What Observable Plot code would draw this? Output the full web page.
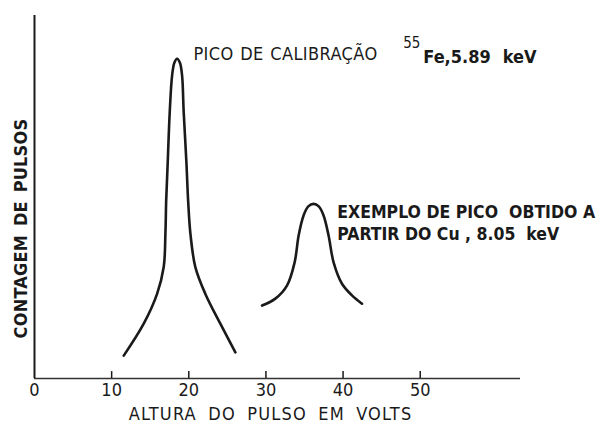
<!DOCTYPE html>
<html>
<head>
<meta charset="utf-8">
<script src="https://cdn.jsdelivr.net/npm/d3@7"></script>
<script src="https://cdn.jsdelivr.net/npm/@observablehq/plot@0.6"></script>
<style>
  html, body { margin: 0; padding: 0; background: #fff; }
  #chart svg { display: block; }
</style>
</head>
<body>
<div id="chart"></div>
<script>
// Peak 1: calibration peak (55Fe, 5.89 keV) — pulse height (V) vs relative counts
const peak1X = [11.57, 14.16, 15.89, 16.75, 16.97, 17.07, 17.27, 17.53, 17.84, 18.13, 18.48, 18.85, 19.13, 19.34, 19.69, 19.92, 20.21, 20.85, 22.15, 24.09, 26.04];
const peak1Y = [6.3, 15.1, 23.3, 30.7, 39.9, 49.0, 59.6, 73.4, 83.5, 87.0, 88.1, 87.0, 83.5, 73.4, 59.6, 48.8, 39.9, 30.7, 23.3, 15.1, 7.2];
// Peak 2: example peak obtained from Cu, 8.05 keV
const peak2X = [29.50, 31.22, 32.73, 33.72, 34.24, 34.88, 35.49, 36.18, 36.85, 37.47, 38.12, 38.77, 39.86, 41.15, 42.45];
const peak2Y = [20.1, 22.0, 25.6, 32.0, 39.4, 44.9, 47.4, 48.1, 47.4, 44.9, 39.4, 32.0, 26.1, 22.9, 20.6];
// Axis ticks and texts
const xTicks = [0, 10, 20, 30, 40, 50];
const xLabel = "ALTURA DO PULSO EM VOLTS";
const yLabel = "CONTAGEM DE PULSOS";
const note1 = "PICO DE CALIBRAÇÃO";
const note1Sup = "55";
const note1Rest = ["Fe,5.89", "keV"];
const note2 = ["EXEMPLO DE PICO  OBTIDO A", "PARTIR DO Cu , 8.05  keV"];

const peak1 = peak1X.map((x, i) => ({x, y: peak1Y[i]}));
const peak2 = peak2X.map((x, i) => ({x, y: peak2Y[i]}));

const ink = "#1a1a1a";
const font = "'DejaVu Sans Condensed', 'DejaVu Sans', sans-serif";

const chart = Plot.plot({
  width: 606,
  height: 433,
  marginLeft: 34,
  marginRight: 86,
  marginTop: 15,
  marginBottom: 55,
  style: {fontFamily: font, color: ink, background: "#fff"},
  x: {domain: [0, 63]},
  y: {domain: [0, 100]},
  marks: [
    // axis lines
    Plot.ruleY([0], {x1: 0, x2: 63, stroke: "#333", strokeWidth: 1.6}),
    Plot.ruleX([0], {y1: 0, y2: 100, stroke: ink, strokeWidth: 2}),
    // small upward tick marks
    Plot.ruleX(xTicks.filter(d => d > 0), {y1: 0, y2: 1.9, stroke: ink, strokeWidth: 1.5}),
    Plot.axisX({ticks: xTicks, tickSize: 0, tickPadding: 5, fontSize: 18, label: null, tickFormat: d => String(d)}),
    Plot.axisY({ticks: [], label: null}),
    // curves
    Plot.line(peak1, {x: "x", y: "y", curve: "catmull-rom", stroke: ink, strokeWidth: 2.6}),
    Plot.line(peak2, {x: "x", y: "y", curve: "catmull-rom", stroke: ink, strokeWidth: 2.6}),
    // axis titles
    Plot.text([xLabel], {x: 30.6, frameAnchor: "bottom", dy: 41, fontSize: 18, fill: ink, text: d => d}),
    Plot.text([yLabel], {y: 41.3, frameAnchor: "left", textAnchor: "middle", dx: -13, rotate: -90, fontSize: 18, fontWeight: "bold", fill: ink, text: d => d}),
    // annotations
    Plot.text([note1], {x: 20.6, y: 89.2, textAnchor: "start", fontSize: 18, fill: ink, text: d => d}),
    Plot.text([note1Sup], {x: 47.8, y: 92.3, textAnchor: "start", fontSize: 15, fill: ink, text: d => d}),
    Plot.text(note1Rest, {x: (d, i) => [50.4, 60.7][i], y: 88.5, textAnchor: "start", fontSize: 18, fill: ink, fontWeight: "bold", text: d => d}),
    Plot.text(note2, {x: 39.25, y: (d, i) => 45.7 - i * 6.0, textAnchor: "start", fontSize: 17.5, fill: ink, fontWeight: "bold", text: d => d})
  ]
});

// letter spacing to mimic the stencil lettering of the original
d3.select(chart).selectAll("text").each(function () {
  const t = this.textContent;
  const s = d3.select(this);
  if (t === xLabel) s.attr("letter-spacing", 1.2).attr("word-spacing", 5);
  else if (t === note1) s.attr("letter-spacing", 0.4).attr("word-spacing", 1);
  else if (t === yLabel) s.attr("letter-spacing", 0.2).attr("word-spacing", 3);
  else if (note2.includes(t)) s.attr("letter-spacing", 0).style("white-space", "pre");
});
document.getElementById("chart").appendChild(chart);
</script>
</body>
</html>
